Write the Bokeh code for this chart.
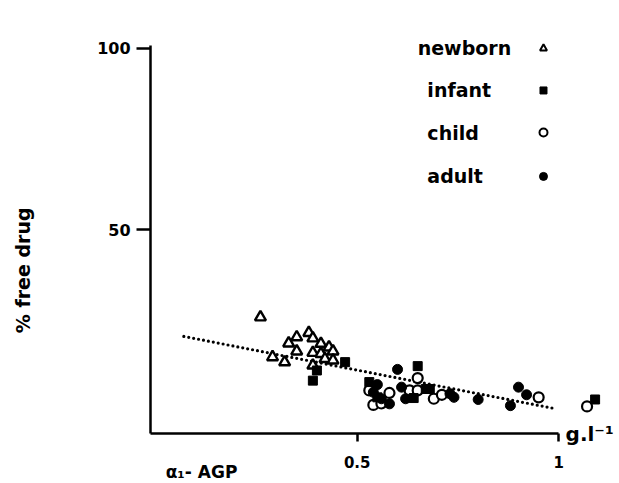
import math
from bokeh.plotting import figure
from bokeh.models import Range1d, FixedTicker, Label
from bokeh.embed import file_html
from bokeh.resources import INLINE

# ---- data ----
newborn_x = [0.26, 0.38, 0.35, 0.39, 0.33, 0.41, 0.43, 0.44, 0.35, 0.39, 0.41, 0.29, 0.32, 0.42, 0.44, 0.39]
newborn_y = [25.9, 21.6, 20.4, 20.1, 18.7, 18.6, 17.6, 16.5, 16.5, 16.1, 15.8, 14.9, 13.5, 14.4, 14.0, 12.6]

infant_x = [0.40, 0.39, 0.47, 0.53, 0.65, 0.64, 0.67, 0.68, 0.55, 1.09]
infant_y = [11.2, 8.4, 13.5, 8.0, 12.4, 3.6, 6.1, 6.1, 3.8, 3.2]

child_x = [0.65, 0.53, 0.58, 0.54, 0.56, 0.63, 0.65, 0.69, 0.71, 0.95, 1.07]
child_y = [9.1, 5.7, 5.0, 1.7, 2.1, 5.7, 5.7, 3.4, 4.5, 3.8, 1.3]

adult_x = [0.60, 0.55, 0.54, 0.56, 0.58, 0.61, 0.62, 0.73, 0.74, 0.80, 0.88, 0.90, 0.92]
adult_y = [11.5, 7.3, 5.2, 3.4, 2.0, 6.6, 3.4, 4.8, 3.8, 3.2, 1.5, 6.6, 4.5]

trend_x = [0.07, 0.99]
trend_y = [20.6, 0.7]

x_ticks = [0.5, 1]
x_tick_labels = ["0.5", "1"]
y_ticks = [50, 100]
y_tick_labels = ["50", "100"]

legend_labels = ["newborn", "infant", "child", "adult"]

FONT = "DejaVu Sans"

X0, Y0 = -0.0126, -6.26   # where the axes sit

p = figure(width=619, height=483, output_backend="svg", toolbar_location=None,
           x_range=Range1d(-0.3847, 1.1505), y_range=Range1d(-19.96, 113.2),
           min_border=0, min_border_left=0, min_border_right=0,
           min_border_top=0, min_border_bottom=0)
p.outline_line_color = None
p.xgrid.visible = False
p.ygrid.visible = False
p.background_fill_color = "white"

# axes
xa = p.xaxis[0]
xa.fixed_location = Y0
xa.ticker = FixedTicker(ticks=x_ticks)
xa.major_label_overrides = dict(zip(x_ticks, x_tick_labels))
xa.bounds = (X0, 1.0)
xa.axis_line_width = 2.5
xa.major_tick_line_width = 2.5
xa.major_tick_out = 8
xa.major_tick_in = 0
xa.minor_tick_line_color = None
xa.major_label_standoff = 14
xa.major_label_text_font = FONT
xa.major_label_text_font_style = "bold"
xa.major_label_text_font_size = "15px"
xa.major_label_text_color = "black"

ya = p.yaxis[0]
ya.fixed_location = X0
ya.ticker = FixedTicker(ticks=y_ticks)
ya.major_label_overrides = dict(zip(y_ticks, y_tick_labels))
ya.bounds = (Y0, 100.8)
ya.axis_line_width = 2.5
ya.major_tick_line_width = 2.5
ya.major_tick_out = 14
ya.major_tick_in = 0
ya.minor_tick_line_color = None
ya.major_label_standoff = 6
ya.major_label_text_font = FONT
ya.major_label_text_font_style = "bold"
ya.major_label_text_font_size = "16px"
ya.major_label_text_color = "black"

# trend line (dotted)
p.line(trend_x, trend_y, line_color="black", line_width=3.2, line_dash="0 5", line_cap="round")

# data points
p.scatter(newborn_x, newborn_y, marker="triangle", size=11, fill_color="white",
          line_color="black", line_width=2.4)
p.scatter(child_x, child_y, marker="circle", size=10, fill_color="white",
          line_color="black", line_width=2.2)
p.scatter(infant_x, infant_y, marker="square", size=9, fill_color="black",
          line_color="black", line_width=1)
p.scatter(adult_x, adult_y, marker="circle", size=10, fill_color="black",
          line_color="black", line_width=1)

# custom legend: text on the left, marker on the right
leg_text_x = [0.650, 0.674, 0.674, 0.674]
leg_y = [100.0, 88.4, 76.8, 64.7]
for lx, ly, txt in zip(leg_text_x, leg_y, legend_labels):
    p.add_layout(Label(x=lx, y=ly, text=txt, text_font=FONT, text_font_style="bold",
                       text_font_size="19px", text_baseline="middle", text_align="left",
                       text_color="black"))
mx = 0.962
p.scatter([mx], [leg_y[0]], marker="triangle", size=7, fill_color="white", line_color="black", line_width=2)
p.scatter([mx], [leg_y[1]], marker="square", size=7, fill_color="black", line_color="black")
p.scatter([mx], [leg_y[2]], marker="circle", size=8, fill_color="white", line_color="black", line_width=2)
p.scatter([mx], [leg_y[3]], marker="circle", size=8, fill_color="black", line_color="black")

# axis titles
p.add_layout(Label(x=-0.33, y=38.8, text="% free drug", angle=math.pi / 2,
                   text_font=FONT, text_font_style="bold", text_font_size="19px",
                   text_align="center", text_baseline="middle", text_color="black"))
p.add_layout(Label(x=0.025, y=-16.9, text="α₁- AGP",
                   text_font=FONT, text_font_style="bold", text_font_size="17px",
                   text_align="left", text_baseline="middle", text_color="black"))
p.add_layout(Label(x=1.0168, y=-6.3, text="g.l⁻¹",
                   text_font=FONT, text_font_style="bold", text_font_size="20px",
                   text_align="left", text_baseline="middle", text_color="black"))

open("out.html", "w").write(file_html(p, INLINE))
